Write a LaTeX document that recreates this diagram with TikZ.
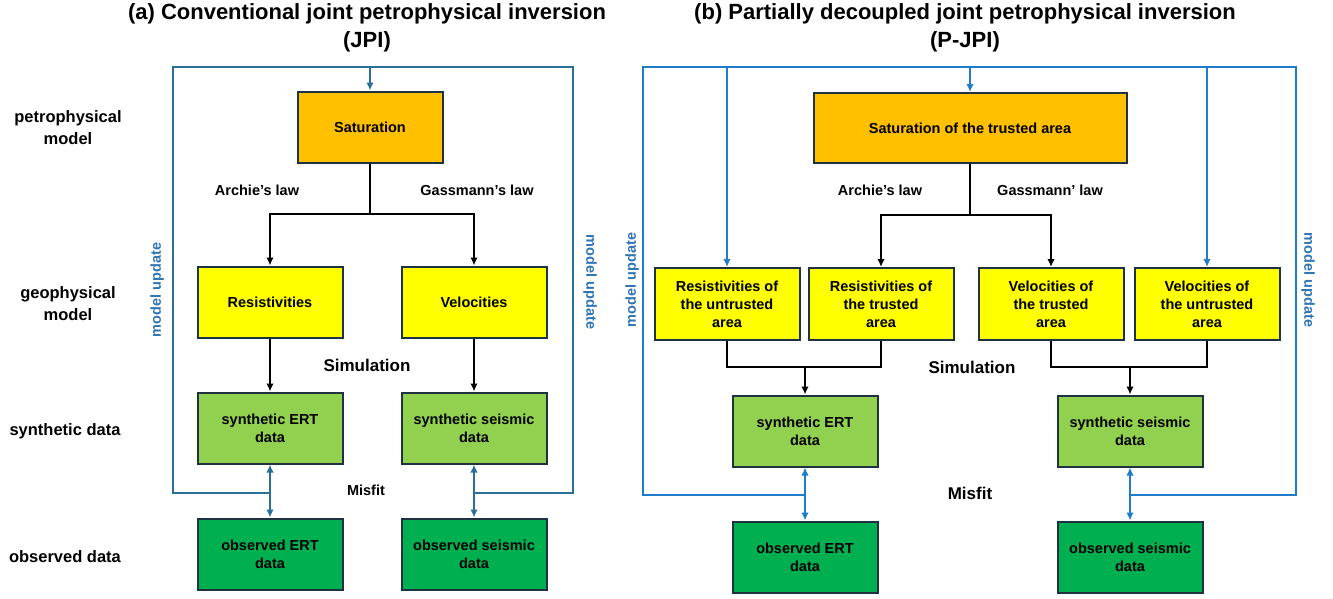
\documentclass[tikz,border=0pt]{standalone}
\usepackage{fontspec}
\setmainfont{Liberation Sans}
\usetikzlibrary{arrows.meta}
\usetikzlibrary{positioning}

\definecolor{satcol}{HTML}{FFC000}
\definecolor{geocol}{HTML}{FFFF00}
\definecolor{syncol}{HTML}{92D050}
\definecolor{obscol}{HTML}{00B050}
\definecolor{boxline}{HTML}{1F3242}
\definecolor{loopa}{HTML}{2B6E96}
\definecolor{loopb}{HTML}{1E7CC8}
\definecolor{updcol}{HTML}{2E75B6}

\newcommand{\bxfont}{\fontsize{14.5}{18}\selectfont\bfseries}
\newcommand{\lblfont}{\fontsize{16.5}{22}\selectfont\bfseries}
\newcommand{\ttlfont}{\fontsize{22}{28}\selectfont\bfseries}

\begin{document}
\begin{tikzpicture}[x=1pt,y=-1pt,
    box/.style={draw=boxline, line width=2pt, minimum width=145pt, minimum height=71pt, inner sep=2pt, align=center, font=\bxfont},
    txt/.style={align=center, font=\bxfont},
    lbl/.style={align=center, font=\lblfont},
    upd/.style={text=updcol, font=\bxfont},
    arr/.style={-{Latex[length=8pt,width=7.5pt]}, line width=1.8pt},
    line/.style={line width=1.8pt},
    loopA/.style={draw=loopa, line width=1.8pt},
    loopB/.style={draw=loopb, line width=1.8pt},
    tipB/.style={-{Latex[length=8pt,width=7.5pt]}},
    dblB/.style={{Latex[length=8pt,width=7.5pt]}-{Latex[length=8pt,width=7.5pt]}}]
\useasboundingbox (0,0) rectangle (1333,598);

% titles
\node[align=center, font=\ttlfont] (titleA) at (367,28) {(a) Conventional joint petrophysical inversion\\(JPI)};
\node[align=center, font=\ttlfont] (titleB) at (965,28) {(b) Partially decoupled joint petrophysical inversion\\(P-JPI)};

% row labels
\node[lbl] (rowPetro) at (68,128) {petrophysical\\model};
\node[lbl] (rowGeo) at (68,304) {geophysical\\model};
\node[lbl] (rowSyn) at (65,431) {synthetic data};
\node[lbl] (rowObs) at (65,557) {observed data};

% ---- (a) JPI ----
\node[box, fill=satcol] (satA) at (370,127) {Saturation};
\node[box, fill=geocol] (resA) at (270,302) {Resistivities};
\node[box, fill=geocol] (velA) at (474,302) {Velocities};
\node[box, fill=syncol] (synA1) at (270,428) {synthetic ERT\\data};
\node[box, fill=syncol] (synA2) at (474,428) {synthetic seismic\\data};
\node[box, fill=obscol] (obsA1) at (270,554) {observed ERT\\data};
\node[box, fill=obscol] (obsA2) at (474,554) {observed seismic\\data};

\node[txt] (archieA) at (257,190) {Archie’s law};
\node[txt] (gassA) at (477,190) {Gassmann’s law};
\node[lbl, font=\fontsize{17}{20}\selectfont\bfseries] (simA) at (367,365) {Simulation};
\node[txt] (misA) at (366,490) {Misfit};
\node[upd, rotate=90] (updA1) at (157,290) {model update};
\node[upd, rotate=-90] (updA2) at (590,282) {model update};

\coordinate (splitA) at (370,214);
\draw[line] (satA.south) -- (splitA);
\draw[arr] (splitA) -| (resA.north);
\draw[arr] (splitA) -| (velA.north);
\draw[arr] (resA) -- (synA1);
\draw[arr] (velA) -- (synA2);

% misfit loop
\coordinate (jA1) at (270,493);
\coordinate (jA2) at (474,493);
\coordinate (cA1) at (173,493);
\coordinate (cA2) at (173,67);
\coordinate (cA3) at (573,67);
\coordinate (cA4) at (573,493);
\coordinate (topA) at (370,67);
\draw[loopA] (jA1) -- (cA1) -- (cA2) -- (cA3) -- (cA4) -- (jA2);
\draw[loopA, tipB] (topA) -- (satA.north);
\draw[loopA, dblB] (synA1) -- (obsA1);
\draw[loopA, dblB] (synA2) -- (obsA2);

% ---- (b) P-JPI ----
\node[box, fill=satcol, minimum width=313pt, minimum height=70pt] (satB) at (970,128) {Saturation of the trusted area};
\node[box, fill=geocol, minimum height=72pt] (resB1) at (727,304) {Resistivities of\\the untrusted\\area};
\node[box, fill=geocol, minimum height=72pt] (resB2) at (881,304) {Resistivities of\\the trusted\\area};
\node[box, fill=geocol, minimum height=72pt] (velB1) at (1051,304) {Velocities of\\the trusted\\area};
\node[box, fill=geocol, minimum height=72pt] (velB2) at (1207,304) {Velocities of\\the untrusted\\area};
\node[box, fill=syncol] (synB1) at (805,431) {synthetic ERT\\data};
\node[box, fill=syncol] (synB2) at (1130,431) {synthetic seismic\\data};
\node[box, fill=obscol] (obsB1) at (805,557) {observed ERT\\data};
\node[box, fill=obscol] (obsB2) at (1130,557) {observed seismic\\data};

\node[txt] (archieB) at (880,190) {Archie’s law};
\node[txt] (gassB) at (1050,190) {Gassmann’ law};
\node[lbl, font=\fontsize{17}{20}\selectfont\bfseries] (simB) at (972,367) {Simulation};
\node[lbl, font=\fontsize{17}{20}\selectfont\bfseries] (misB) at (970,493) {Misfit};
\node[upd, rotate=90] (updB1) at (632,280) {model update};
\node[upd, rotate=-90] (updB2) at (1308,280) {model update};

\coordinate (splitB) at (970,215);
\draw[line] (satB.south) -- (splitB);
\draw[arr] (splitB) -| (resB2.north);
\draw[arr] (splitB) -| (velB1.north);

\coordinate (mergeB1) at (805,367);
\coordinate (mergeB2) at (1130,367);
\draw[line] (resB1.south) |- (mergeB1) -| (resB2.south);
\draw[line] (velB1.south) |- (mergeB2) -| (velB2.south);
\draw[arr] (mergeB1) -- (synB1.north);
\draw[arr] (mergeB2) -- (synB2.north);

% misfit loop
\coordinate (jB1) at (805,495);
\coordinate (jB2) at (1130,495);
\coordinate (cB1) at (643,495);
\coordinate (cB2) at (643,67);
\coordinate (cB3) at (1296,67);
\coordinate (cB4) at (1296,495);
\draw[loopB] (jB1) -- (cB1) -- (cB2) -- (cB3) -- (cB4) -- (jB2);
\draw[loopB, tipB] (resB1.north |- cB2) -- (resB1.north);
\draw[loopB, tipB] (satB.north |- cB2) -- (satB.north);
\draw[loopB, tipB] (velB2.north |- cB2) -- (velB2.north);
\draw[loopB, dblB] (synB1) -- (obsB1);
\draw[loopB, dblB] (synB2) -- (obsB2);
\end{tikzpicture}
\end{document}
